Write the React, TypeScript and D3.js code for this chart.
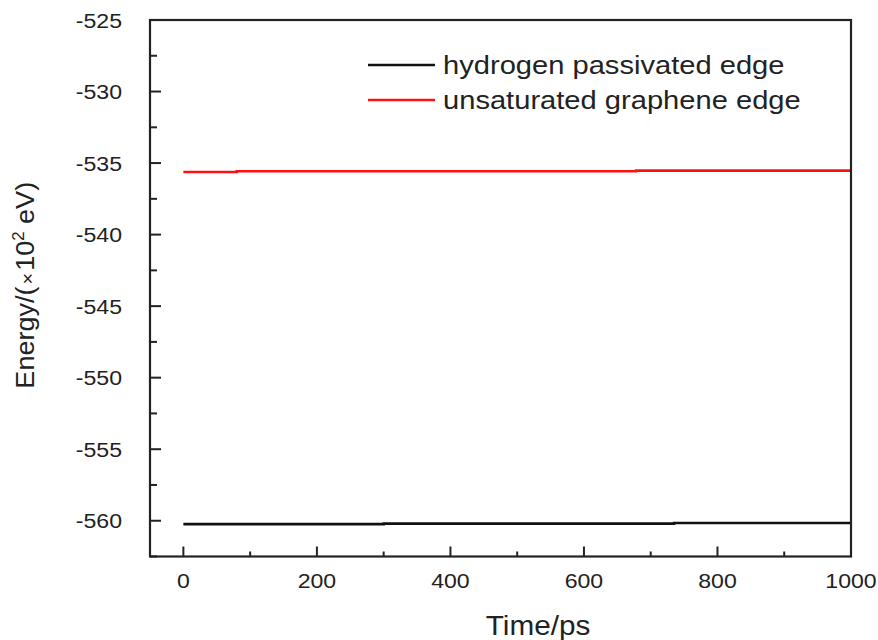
import React from "react";
import * as d3 from "d3";

const hydrogenTime = [0, 300, 300, 735, 735, 1000];
const hydrogenEnergy = [-560.24, -560.24, -560.2, -560.2, -560.16, -560.16];
const unsatTime = [0, 80, 80, 678, 678, 1000];
const unsatEnergy = [-535.62, -535.62, -535.57, -535.57, -535.53, -535.53];
const xTicks = [0, 200, 400, 600, 800, 1000];
const xMinor = [100, 300, 500, 700, 900];
const yTicks = [-560, -555, -550, -545, -540, -535, -530, -525];
const yMinor = [-562.5, -557.5, -552.5, -547.5, -542.5, -537.5, -532.5, -527.5];
const seriesNames = ["hydrogen passivated edge", "unsaturated graphene edge"];
const seriesColors = ["#111111", "#ff1010"];

const FONT = "'Liberation Sans', Arial, sans-serif";
const SX = 1.1;

export default function App() {
  const W = 878, H = 640;
  const left = 150, right = 851, top = 20, bottom = 556.5;
  const x = d3.scaleLinear().domain([-50, 1000]).range([left, right]);
  const y = d3.scaleLinear().domain([-562.5, -525]).range([bottom, top]);
  const line = d3.line<[number, number]>().x(d => x(d[0])).y(d => y(d[1]));
  const series = [
    hydrogenTime.map((t, i) => [t, hydrogenEnergy[i]] as [number, number]),
    unsatTime.map((t, i) => [t, unsatEnergy[i]] as [number, number]),
  ];
  const axisColor = "#222";
  return (
    <svg width={W} height={H} style={{ position: "absolute", left: 0, top: 0, background: "#fff" }}>
      <rect x={0} y={0} width={W} height={H} fill="#fff" />
      {series.map((s, i) => (
        <path key={i} d={line(s) || ""} fill="none" stroke={seriesColors[i]} strokeWidth={2.6} />
      ))}
      <rect x={left} y={top} width={right - left} height={bottom - top} fill="none" stroke={axisColor} strokeWidth={2.2} />
      {xTicks.map(t => (
        <g key={"x" + t}>
          <line x1={x(t)} x2={x(t)} y1={bottom} y2={bottom - 10} stroke={axisColor} strokeWidth={2} />
          <g transform={`translate(${x(t)},588) scale(${SX},1)`}>
            <text x={0} y={0} textAnchor="middle" fontFamily={FONT} fontSize={21} fill="#222">{t}</text>
          </g>
        </g>
      ))}
      {xMinor.map(t => (
        <line key={"xm" + t} x1={x(t)} x2={x(t)} y1={bottom} y2={bottom - 5} stroke={axisColor} strokeWidth={2} />
      ))}
      {yTicks.map(t => (
        <g key={"y" + t}>
          <line x1={left} x2={left + 11} y1={y(t)} y2={y(t)} stroke={axisColor} strokeWidth={2} />
          <g transform={`translate(122,${y(t) + 7.5}) scale(${SX},1)`}>
            <text x={0} y={0} textAnchor="end" fontFamily={FONT} fontSize={21} fill="#222">{t}</text>
          </g>
        </g>
      ))}
      {yMinor.map(t => (
        <line key={"ym" + t} x1={left} x2={left + 7} y1={y(t)} y2={y(t)} stroke={axisColor} strokeWidth={2} />
      ))}
      {seriesNames.map((n, i) => (
        <g key={n}>
          <line x1={368} x2={435} y1={65 + i * 35} y2={65 + i * 35} stroke={seriesColors[i]} strokeWidth={2.6} />
          <g transform={`translate(443,${65 + i * 35 + 9}) scale(1.12,1)`}>
            <text x={0} y={0} fontFamily={FONT} fontSize={26} fill="#222">{n}</text>
          </g>
        </g>
      ))}
      <g transform={`translate(538,635) scale(${SX},1)`}>
        <text x={0} y={0} textAnchor="middle" fontFamily={FONT} fontSize={27} fill="#222">Time/ps</text>
      </g>
      <g transform={`translate(34,${(top + bottom) / 2 - 3}) rotate(-90) scale(1.04,1)`}>
        <text x={0} y={0} textAnchor="middle" fontFamily={FONT} fontSize={26} fill="#222">
          Energy/(<tspan fontSize={19} dx={2}>×</tspan><tspan dx={2}>10</tspan><tspan fontSize={16} dy={-10}>2</tspan><tspan dy={10}> eV)</tspan>
        </text>
      </g>
    </svg>
  );
}
